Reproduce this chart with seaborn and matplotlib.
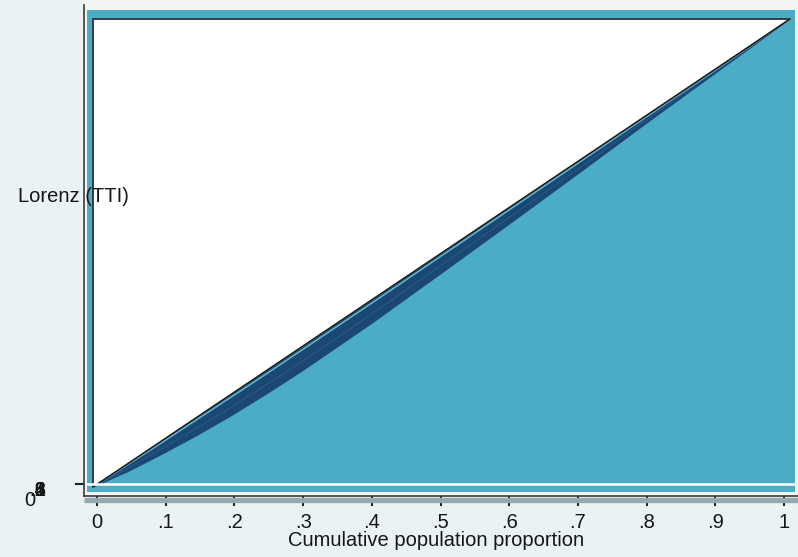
import matplotlib
matplotlib.use("Agg")
import matplotlib.pyplot as plt
import seaborn as sns
import pandas as pd
from matplotlib.patches import Rectangle

# Lorenz curves for total taxable income (TTI)
pop_share = [0.0, 0.05, 0.10, 0.15, 0.20, 0.25, 0.30, 0.40, 0.50, 0.60, 0.70, 0.80, 0.90, 1.0]
lorenz_low = [0.0, 0.033, 0.071, 0.111, 0.154, 0.200, 0.248, 0.350, 0.457, 0.565, 0.674, 0.784, 0.892, 1.0]
lorenz_mid = [0.0, 0.040, 0.083, 0.127, 0.172, 0.220, 0.268, 0.370, 0.474, 0.579, 0.684, 0.791, 0.896, 1.0]
lorenz_high = [0.0, 0.048, 0.096, 0.145, 0.194, 0.243, 0.293, 0.393, 0.494, 0.595, 0.696, 0.797, 0.898, 1.0]

x_ticks = [0.0, 0.1, 0.2, 0.3, 0.4, 0.5, 0.6, 0.7, 0.8, 0.9, 1.0]
x_tick_labels = ["0", ".1", ".2", ".3", ".4", ".5", ".6", ".7", ".8", ".9", "1"]
y_zero_label = "0"
y_stack_labels = [".2", ".4", ".6", ".8", "1"]

df = pd.DataFrame({"p": pop_share, "low": lorenz_low, "mid": lorenz_mid, "high": lorenz_high})

sns.set_style("white")
plt.rcParams["font.family"] = ["Liberation Sans", "DejaVu Sans"]

BG = "#EAF2F3"
PLOT_BG = "#F2F3F3"
TEAL = "#4BACC6"
NAVY = "#1B4872"
INK = "#161616"
FS = 14.5

W, H = 798, 557
fig = plt.figure(figsize=(W / 100, H / 100), dpi=100, facecolor=BG)


def box(x0, y0, x1, y1):
    return [x0 / W, 1 - y1 / H, (x1 - x0) / W, (y1 - y0) / H]


# plot region background
fig.add_artist(Rectangle((84 / W, 1 - 496 / H), (W - 84) / W, 496 / H,
                         transform=fig.transFigure, color=PLOT_BG, zorder=0))

# --- Lorenz panel -------------------------------------------------------
axl = fig.add_axes(box(87, 10, 795, 492), zorder=1)
axl.set_facecolor(TEAL)
axl.set_xlim(-6 / 697, 1 + 5 / 697)
axl.set_ylim(-5 / 468, 1 + 9 / 468)
for s in axl.spines.values():
    s.set_visible(False)
axl.set_xticks([])
axl.set_yticks([])

axl.fill_between(df["p"], df["p"], 1, color="white", lw=0, zorder=1)
axl.fill_between(df["p"], df["low"], df["p"], color=NAVY, lw=0, zorder=2)
sns.lineplot(data=df, x="p", y="mid", ax=axl, color="#275B87", lw=0.7, zorder=3)
sns.lineplot(data=df, x="p", y="high", ax=axl, color="#5DB9D2", lw=1.1, zorder=3)
sns.lineplot(data=df, x="p", y="p", ax=axl, color=INK, lw=1.1, zorder=4)
axl.plot([0, 0, 1], [0, 1, 1], color="#333333", lw=1.3, zorder=4)
axl.set_xlabel("")
axl.set_ylabel("")

# --- axis frame ---------------------------------------------------------
ax = fig.add_axes(box(84, 5, 798, 496), zorder=2)
ax.set_facecolor("none")
ax.set_xlim(-13 / 687, 1 + 14 / 687)
ax.set_ylim(-12 / 479, 1.0)
for side in ("top", "right"):
    ax.spines[side].set_visible(False)
for side in ("left", "bottom"):
    ax.spines[side].set_color("#3A3A3A")
    ax.spines[side].set_linewidth(1.2)

ax.axhline(0, xmin=3 / 714, xmax=711 / 714, color="white", lw=1.8)
ax.plot([0, 1], [-3.8 / 491] * 2, transform=ax.transAxes, clip_on=False,
        color="#95AAB0", lw=3.8, solid_capstyle="butt", zorder=1)

ax.set_xticks(x_ticks, x_tick_labels)
ax.set_yticks([0], [""])
ax.tick_params(axis="x", direction="out", length=7, width=1.5, color="#222222",
               pad=5, labelsize=FS, labelcolor=INK, bottom=True)
ax.tick_params(axis="y", direction="out", length=6.5, width=1.5, color="#222222",
               left=True)

ax.set_xlabel("Cumulative population proportion", fontsize=FS, color=INK)
ax.xaxis.set_label_coords((436.5 - 84) / 714, (496 - 541) / 491)
ax.xaxis.label.set_verticalalignment("center")

fig.text(35 / W, 1 - 500 / H, y_zero_label, ha="right", va="center", fontsize=FS, color=INK)
for lbl in y_stack_labels:
    fig.text(46 / W, 1 - 491 / H, lbl, ha="right", va="center", fontsize=FS, color=INK)

fig.text(18 / W, 1 - 196 / H, "Lorenz (TTI)", ha="left", va="center", fontsize=FS,
         color=INK, zorder=5)

fig.savefig("out.png", dpi=100, facecolor=BG)
